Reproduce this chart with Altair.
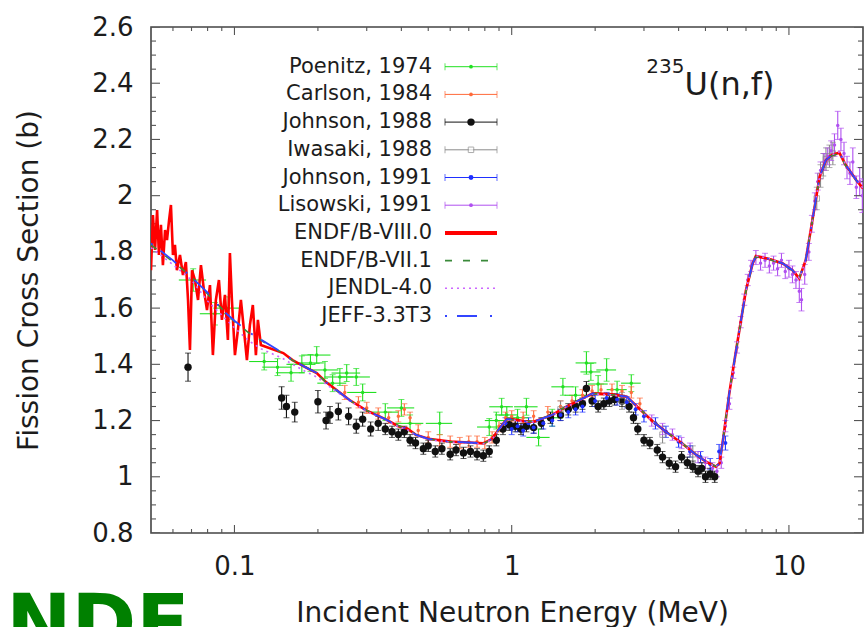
import math
import altair as alt
import pandas as pd

FONT = "DejaVu Sans"
TXT = "#1c1c1c"
TICK = "#555555"

# ---------------- series / styles ----------------
SERIES = ["Poenitz, 1974", "Carlson, 1984", "Johnson, 1988", "Iwasaki, 1988",
          "Johnson, 1991", "Lisowski, 1991", "ENDF/B-VIII.0", "ENDF/B-VII.1",
          "JENDL-4.0", "JEFF-3.3T3"]
SERIES_COLORS = ["#22e022", "#ff6a3a", "#111111", "#8a8a8a", "#1f30ff", "#b050f0",
                 "#ff0000", "#3a8a3a", "#cc66ff", "#3345ff"]
EXPERIMENTS = SERIES[:6]
TICK_KEY = "_axis_tick"

# ---------------- axes ----------------
X_DOMAIN = [0.05, 18.5]
Y_DOMAIN = [0.8, 2.6]
X_LABEL_TICKS = [0.1, 1, 10]
X_MINOR_TICKS = [0.06, 0.07, 0.08, 0.09, 0.2, 0.3, 0.4, 0.5, 0.6, 0.7, 0.8, 0.9,
                 2, 3, 4, 5, 6, 7, 8, 9]
Y_LABEL_TICKS = [0.8, 1.0, 1.2, 1.4, 1.6, 1.8, 2.0, 2.2, 2.4, 2.6]
Y_MINOR_TICKS = [0.85, 0.9, 0.95, 1.05, 1.1, 1.15, 1.25, 1.3, 1.35, 1.45, 1.5, 1.55,
                 1.65, 1.7, 1.75, 1.85, 1.9, 1.95, 2.05, 2.1, 2.15, 2.25, 2.3, 2.35,
                 2.45, 2.5, 2.55]

# ---------------- evaluated curves ----------------
E8_E = [0.0500, 0.0508, 0.0517, 0.0526, 0.0534, 0.0543, 0.0552, 0.0562, 0.0571, 0.0581,
        0.0590, 0.0600, 0.0610, 0.0620, 0.0636, 0.0652, 0.0668, 0.0680, 0.0691, 0.0703,
        0.0720, 0.0739, 0.0757, 0.0776, 0.0796, 0.0816, 0.0836, 0.0857, 0.0879, 0.0901,
        0.0924, 0.0947, 0.0963, 0.0979, 0.1004, 0.1029, 0.1055, 0.1082, 0.1109, 0.1137,
        0.1165, 0.1195, 0.1215, 0.1245,
        0.15, 0.162, 0.18, 0.198, 0.215, 0.234, 0.26, 0.3, 0.35, 0.39, 0.42, 0.45, 0.5,
        0.6, 0.7, 0.79, 0.85, 0.9, 0.96, 1.0, 1.1, 1.2, 1.4, 1.57, 1.8, 1.96, 2.3, 2.6,
        2.9, 3.2, 3.6, 4.1, 4.6, 5.0, 5.45, 5.62, 5.8, 6.1, 6.45, 7.0, 7.4, 7.6, 8.5,
        9.5, 10.3, 10.9, 11.5, 12.5, 12.9, 13.6, 14.3, 15.2, 16.0, 16.5, 17.5, 18.5]
E8_XS = [1.735, 1.931, 1.807, 1.949, 1.789, 1.896, 1.753, 1.878, 1.842, 1.913,
         1.967, 1.789, 1.825, 1.735, 1.789, 1.718, 1.764, 1.629, 1.451, 1.735,
         1.700, 1.629, 1.753, 1.664, 1.593, 1.682, 1.433, 1.629, 1.700, 1.558,
         1.647, 1.487, 1.796, 1.629, 1.433, 1.522, 1.629, 1.522, 1.415, 1.540,
         1.611, 1.433, 1.558, 1.469,
         1.440, 1.415, 1.390, 1.369, 1.335, 1.308, 1.273, 1.235, 1.205, 1.180, 1.172,
         1.150, 1.135, 1.125, 1.122, 1.119, 1.135, 1.170, 1.205, 1.205, 1.198, 1.196,
         1.220, 1.249, 1.278, 1.297, 1.293, 1.285, 1.240, 1.200, 1.160, 1.120, 1.080,
         1.055, 1.036, 1.048, 1.140, 1.300, 1.451, 1.664, 1.759, 1.785, 1.775, 1.759,
         1.735, 1.706, 1.771, 1.985, 2.067, 2.127, 2.145, 2.153, 2.110, 2.091, 2.055,
         2.026]

SMOOTH_E = [0.05, 0.06, 0.07, 0.08, 0.09, 0.10, 0.114, 0.125, 0.15, 0.162, 0.18, 0.198,
            0.215, 0.234, 0.26, 0.3, 0.35, 0.39, 0.42, 0.45, 0.5, 0.6, 0.7, 0.79, 0.85,
            0.9, 0.96, 1.0, 1.1, 1.2, 1.4, 1.57, 1.8, 1.96, 2.3, 2.6, 2.9, 3.2, 3.6, 4.1,
            4.6, 5.0, 5.45, 5.62, 5.8, 6.1, 6.45, 7.0, 7.4, 7.6, 8.5, 9.5, 10.3, 10.9,
            11.5, 12.5, 12.9, 13.6, 14.3, 15.2, 16.0, 16.5, 17.5, 18.5]
JEFF_XS = [1.830, 1.770, 1.710, 1.655, 1.595, 1.555, 1.511, 1.487, 1.440, 1.415, 1.390,
           1.369, 1.335, 1.308, 1.273, 1.235, 1.205, 1.180, 1.172, 1.150, 1.135, 1.125,
           1.122, 1.119, 1.135, 1.170, 1.205, 1.205, 1.198, 1.196, 1.220, 1.249, 1.278,
           1.297, 1.293, 1.285, 1.240, 1.200, 1.160, 1.120, 1.080, 1.055, 1.036, 1.048,
           1.140, 1.300, 1.451, 1.664, 1.759, 1.785, 1.775, 1.759, 1.735, 1.706, 1.771,
           1.985, 2.067, 2.127, 2.145, 2.153, 2.110, 2.091, 2.055, 2.026]
E71_XS = [1.825, 1.765, 1.712, 1.650, 1.598, 1.552, 1.508, 1.485, 1.438, 1.414, 1.392,
          1.367, 1.334, 1.306, 1.272, 1.236, 1.204, 1.182, 1.170, 1.150, 1.134, 1.124,
          1.121, 1.118, 1.134, 1.168, 1.203, 1.204, 1.197, 1.197, 1.221, 1.250, 1.279,
          1.296, 1.292, 1.284, 1.241, 1.201, 1.161, 1.121, 1.081, 1.056, 1.037, 1.050,
          1.142, 1.302, 1.449, 1.660, 1.757, 1.783, 1.773, 1.757, 1.733, 1.708, 1.772,
          1.983, 2.065, 2.125, 2.143, 2.150, 2.108, 2.090, 2.054, 2.025]
JENDL_XS = [1.815, 1.755, 1.700, 1.625, 1.575, 1.530, 1.480, 1.455, 1.420, 1.400, 1.375,
            1.355, 1.328, 1.302, 1.270, 1.233, 1.203, 1.178, 1.168, 1.148, 1.132, 1.123,
            1.120, 1.117, 1.133, 1.167, 1.202, 1.203, 1.196, 1.195, 1.219, 1.248, 1.277,
            1.295, 1.291, 1.283, 1.239, 1.199, 1.159, 1.119, 1.079, 1.054, 1.035, 1.047,
            1.138, 1.298, 1.450, 1.662, 1.760, 1.786, 1.776, 1.760, 1.736, 1.707, 1.770,
            1.984, 2.066, 2.128, 2.146, 2.155, 2.112, 2.092, 2.056, 2.027]

# ---------------- experimental data ----------------
P74_E = [0.071, 0.085, 0.095, 0.128, 0.143, 0.160, 0.175, 0.188, 0.198, 0.212, 0.226,
         0.240, 0.254, 0.275, 0.290, 0.35, 0.40, 0.43, 0.55, 0.83, 0.88, 0.92, 0.96,
         1.05, 1.13, 1.25, 1.40, 1.53, 1.70, 1.86, 1.93, 2.05, 2.20, 2.40, 2.70]
P74_XS = [1.70, 1.58, 1.60, 1.41, 1.39, 1.37, 1.40, 1.405, 1.433, 1.38, 1.333, 1.355,
          1.369, 1.355, 1.30, 1.23, 1.245, 1.19, 1.19, 1.177, 1.20, 1.249, 1.22, 1.21,
          1.249, 1.14, 1.21, 1.32, 1.29, 1.405, 1.373, 1.33, 1.38, 1.31, 1.333]
P74_ERR = [0.04, 0.04, 0.04, 0.03, 0.03, 0.03, 0.03, 0.03, 0.03, 0.03, 0.03, 0.03,
           0.03, 0.03, 0.03, 0.03, 0.03, 0.03, 0.04, 0.03, 0.03, 0.03, 0.03, 0.03,
           0.03, 0.03, 0.03, 0.03, 0.03, 0.04, 0.03, 0.03, 0.04, 0.03, 0.03]
P74_DE = [0.008, 0.010, 0.011, 0.015, 0.017, 0.019, 0.021, 0.022, 0.024, 0.025, 0.027,
          0.029, 0.030, 0.033, 0.035, 0.040, 0.045, 0.050, 0.060, 0.08, 0.08, 0.09,
          0.09, 0.10, 0.11, 0.12, 0.13, 0.14, 0.15, 0.16, 0.16, 0.17, 0.18, 0.20, 0.22]

C84_E = [0.25, 0.28, 0.30, 0.33, 0.36, 0.39, 0.41, 0.43, 0.46, 0.50, 0.55, 0.60, 0.65,
         0.70, 0.75, 0.80, 0.85, 0.90, 0.95, 1.00, 1.10, 1.20, 1.35, 1.50, 1.65, 1.80,
         1.95, 2.10, 2.30, 2.50, 2.70, 2.90]
C84_XS = [1.30, 1.265, 1.245, 1.225, 1.21, 1.215, 1.24, 1.21, 1.165, 1.14, 1.13, 1.125,
          1.12, 1.125, 1.125, 1.12, 1.14, 1.18, 1.21, 1.215, 1.21, 1.215, 1.23, 1.25,
          1.27, 1.29, 1.305, 1.31, 1.31, 1.305, 1.30, 1.26]
C84_ERR = [0.025, 0.02, 0.02, 0.02, 0.02, 0.02, 0.02, 0.02, 0.02, 0.02, 0.02, 0.02,
           0.02, 0.02, 0.02, 0.02, 0.02, 0.02, 0.02, 0.02, 0.02, 0.02, 0.02, 0.02,
           0.02, 0.02, 0.02, 0.02, 0.02, 0.02, 0.02, 0.02]

J88_E = [0.068, 0.148, 0.154, 0.165, 0.200, 0.214, 0.221, 0.237, 0.258, 0.275, 0.29,
         0.31, 0.33, 0.35, 0.37, 0.39, 0.41, 0.43, 0.45, 0.48, 0.50, 0.53, 0.56, 0.60,
         0.63, 0.67, 0.71, 0.75, 0.79, 0.83, 0.88, 0.93, 0.98, 1.03, 1.08, 1.13, 1.20,
         1.28, 1.38, 1.50, 1.60, 1.70, 1.80, 1.86, 1.95, 2.05, 2.15, 2.25, 2.35, 2.50,
         2.65, 2.75, 2.85, 3.0, 3.15, 3.35, 3.5, 3.7, 3.9, 4.1, 4.3, 4.5, 4.7, 4.85,
         5.0, 5.2, 5.4]
J88_XS = [1.39, 1.28, 1.25, 1.23, 1.267, 1.20, 1.22, 1.232, 1.215, 1.18, 1.205, 1.17,
          1.19, 1.17, 1.16, 1.15, 1.16, 1.13, 1.12, 1.10, 1.11, 1.09, 1.10, 1.08, 1.095,
          1.085, 1.09, 1.08, 1.075, 1.09, 1.13, 1.17, 1.185, 1.18, 1.17, 1.18, 1.175,
          1.19, 1.21, 1.22, 1.24, 1.25, 1.26, 1.314, 1.27, 1.25, 1.26, 1.27, 1.275,
          1.27, 1.25, 1.21, 1.17, 1.13, 1.12, 1.095, 1.07, 1.048, 1.036, 1.07, 1.05,
          1.036, 1.02, 1.03, 1.0, 1.01, 1.0]
J88_ERR = [0.05, 0.04, 0.04, 0.035, 0.04, 0.03, 0.03, 0.03, 0.03, 0.025, 0.025, 0.025,
           0.025, 0.02, 0.02, 0.02, 0.02, 0.02, 0.02, 0.02, 0.02, 0.02, 0.02, 0.02,
           0.02, 0.02, 0.02, 0.02, 0.02, 0.02, 0.02, 0.02, 0.02, 0.02, 0.02, 0.02,
           0.02, 0.02, 0.02, 0.02, 0.02, 0.02, 0.02, 0.025, 0.02, 0.02, 0.02, 0.02,
           0.02, 0.02, 0.02, 0.02, 0.02, 0.02, 0.02, 0.02, 0.02, 0.02, 0.02, 0.02,
           0.02, 0.02, 0.02, 0.02, 0.02, 0.02, 0.02]

I88_E = [1.5, 2.5, 3.5, 4.5, 12.6, 13.0, 13.3, 13.6, 14.0, 14.4]
I88_XS = [1.24, 1.27, 1.15, 1.08, 1.99, 2.07, 2.11, 2.13, 2.14, 2.15]
I88_ERR = [0.03, 0.03, 0.03, 0.03, 0.04, 0.04, 0.04, 0.04, 0.04, 0.04]

J91_E = [0.95, 1.0, 1.05, 1.1, 1.15, 1.2, 1.3, 1.4, 1.5, 1.6, 1.7, 1.8, 2.0, 2.2, 2.4,
         2.6, 2.8, 3.0, 3.3, 3.6, 4.0, 4.4, 4.8, 5.2, 5.6, 5.9]
J91_XS = [1.19, 1.17, 1.18, 1.165, 1.19, 1.175, 1.19, 1.20, 1.22, 1.23, 1.24, 1.25,
          1.27, 1.28, 1.275, 1.265, 1.24, 1.215, 1.19, 1.16, 1.125, 1.09, 1.07, 1.045,
          1.09, 1.12]
J91_ERR = [0.02, 0.02, 0.02, 0.02, 0.02, 0.02, 0.02, 0.02, 0.02, 0.02, 0.02, 0.02,
           0.02, 0.02, 0.02, 0.02, 0.02, 0.02, 0.02, 0.02, 0.02, 0.02, 0.02, 0.02,
           0.025, 0.025]

L91_E = [3.2, 3.5, 3.8, 4.1, 4.4, 4.7, 5.0, 5.3, 5.5, 5.7, 5.9, 6.1, 6.3, 6.5, 6.7,
         6.9, 7.1, 7.3, 7.6, 7.9, 8.2, 8.5, 8.8, 9.1, 9.4, 9.7, 10.0, 10.3, 10.6, 10.9,
         11.1, 11.4, 11.8, 12.1, 12.4, 12.7, 13.0, 13.4, 13.8, 14.2, 14.6, 15.0, 15.4,
         15.8, 16.2, 16.6, 17.0, 17.5, 18.0, 18.4]
L91_XS = [1.20, 1.17, 1.15, 1.12, 1.10, 1.07, 1.05, 1.03, 1.02, 1.05, 1.18, 1.26, 1.37,
          1.46, 1.55, 1.63, 1.70, 1.75, 1.78, 1.76, 1.77, 1.75, 1.76, 1.74, 1.77, 1.73,
          1.74, 1.72, 1.70, 1.66, 1.63, 1.72, 1.80, 1.90, 1.98, 2.05, 2.09, 2.12, 2.14,
          2.16, 2.18, 2.25, 2.20, 2.15, 2.10, 2.08, 2.12, 2.03, 2.05, 2.00]
L91_ERR = [0.02, 0.02, 0.02, 0.02, 0.02, 0.02, 0.02, 0.02, 0.02, 0.02, 0.02, 0.02,
           0.02, 0.02, 0.02, 0.02, 0.02, 0.02, 0.025, 0.025, 0.025, 0.025, 0.025, 0.025,
           0.025, 0.025, 0.03, 0.03, 0.03, 0.04, 0.04, 0.035, 0.03, 0.03, 0.03, 0.03,
           0.03, 0.03, 0.03, 0.035, 0.04, 0.05, 0.04, 0.04, 0.04, 0.04, 0.05, 0.04,
           0.05, 0.06]

ANNOT_TEXT = ["U(n,f)", "235"]
ANNOT_E = [4.2, 4.2]
ANNOT_XS = [2.358, 2.437]
LOGO_TEXT = ["ENDF"]

# ---------------- tables ----------------
exp_sets = [("Poenitz, 1974", P74_E, P74_XS, P74_ERR),
            ("Carlson, 1984", C84_E, C84_XS, C84_ERR),
            ("Johnson, 1988", J88_E, J88_XS, J88_ERR),
            ("Iwasaki, 1988", I88_E, I88_XS, I88_ERR),
            ("Johnson, 1991", J91_E, J91_XS, J91_ERR),
            ("Lisowski, 1991", L91_E, L91_XS, L91_ERR)]
rows = []
for name, es, xs, er in exp_sets:
    for e, s, d in zip(es, xs, er):
        rows.append({"series": name, "E": e, "xs": s, "lo": s - d, "hi": s + d})
exp_df = pd.DataFrame(rows)

# plot geometry, used only to express tick lengths in data units
W, H = 712, 506
PX_PER_DECADE = W / math.log10(X_DOMAIN[1] / X_DOMAIN[0])
PX_PER_UNIT = H / (Y_DOMAIN[1] - Y_DOMAIN[0])

def ytick_len(px):
    return px / PX_PER_UNIT

def xtick_fac(px):
    return 10 ** (px / PX_PER_DECADE)

# vertical segments: experimental error bars + inward x-axis ticks (bottom and top)
vrows = list(rows)
for vals, px in [(X_LABEL_TICKS, 8), (X_MINOR_TICKS, 4)]:
    for v in vals:
        vrows.append({"series": TICK_KEY, "E": v, "xs": Y_DOMAIN[0],
                      "lo": Y_DOMAIN[0], "hi": Y_DOMAIN[0] + ytick_len(px)})
        vrows.append({"series": TICK_KEY, "E": v, "xs": Y_DOMAIN[1],
                      "lo": Y_DOMAIN[1] - ytick_len(px), "hi": Y_DOMAIN[1]})
vbar_df = pd.DataFrame(vrows)

# horizontal segments: Poenitz energy bars + inward y-axis ticks (left and right)
hrows = [{"series": "Poenitz, 1974", "E": e, "xs": s, "Elo": e - d, "Ehi": e + d}
         for e, s, d in zip(P74_E, P74_XS, P74_DE)]
for vals, px in [(Y_LABEL_TICKS, 9), (Y_MINOR_TICKS, 5)]:
    for v in vals:
        hrows.append({"series": TICK_KEY, "E": X_DOMAIN[0], "xs": v,
                      "Elo": X_DOMAIN[0], "Ehi": X_DOMAIN[0] * xtick_fac(px)})
        hrows.append({"series": TICK_KEY, "E": X_DOMAIN[1], "xs": v,
                      "Elo": X_DOMAIN[1] / xtick_fac(px), "Ehi": X_DOMAIN[1]})
hbar_df = pd.DataFrame(hrows)

def sub(name):
    return exp_df[exp_df["series"] == name]

e8_df = pd.DataFrame({"E": E8_E, "xs": E8_XS})
e71_df = pd.DataFrame({"E": SMOOTH_E, "xs": E71_XS})
jendl_df = pd.DataFrame({"E": SMOOTH_E, "xs": JENDL_XS})
jeff_df = pd.DataFrame({"E": SMOOTH_E, "xs": JEFF_XS})
leg_df = pd.DataFrame({"series": SERIES})

# ---------------- encodings ----------------
XS = alt.Scale(type="log", domain=X_DOMAIN, nice=False)
YS = alt.Scale(domain=Y_DOMAIN, nice=False, zero=False)

def X(field="E", axis=None):
    return alt.X(f"{field}:Q", scale=XS, axis=axis)

def Y(field="xs", axis=None):
    return alt.Y(f"{field}:Q", scale=YS, axis=axis)

COLOR = alt.Color("series:N", scale=alt.Scale(domain=SERIES + [TICK_KEY],
                                              range=SERIES_COLORS + [TICK]), legend=None)

x_label_axis = alt.Axis(orient="bottom", values=X_LABEL_TICKS, format="~g", ticks=False,
                        domain=False, grid=False, labelPadding=20, labelFont=FONT,
                        labelFontSize=26, labelColor=TXT, labelFlush=False,
                        labelOverlap=False,
                        title="Incident Neutron Energy (MeV)", titleFont=FONT,
                        titleFontSize=28, titleFontWeight="normal", titleColor=TXT,
                        titleX=361, titleY=88, titleAlign="center",
                        titleBaseline="alphabetic")
y_label_axis = alt.Axis(orient="left", values=Y_LABEL_TICKS, format="~g", ticks=False,
                        domain=False, grid=False, labelPadding=18, labelFont=FONT,
                        labelFontSize=26, labelColor=TXT, labelFlush=False,
                        labelOverlap=False,
                        title="Fission Cross Section (b)", titleFont=FONT,
                        titleFontSize=28, titleFontWeight="normal", titleColor=TXT,
                        titleX=-114, titleY=253, titleAngle=270, titleAlign="center",
                        titleBaseline="alphabetic")

layers = []

# ---- layer carrying the labelled axes ----
layers.append(alt.Chart(e8_df).mark_line(color=SERIES_COLORS[6], strokeWidth=2.6,
                                         opacity=0, clip=True)
              .encode(x=X(axis=x_label_axis), y=Y(axis=y_label_axis)))

# ---- error bars and inward axis ticks ----
layers.append(alt.Chart(vbar_df).mark_rule(strokeWidth=1.1, clip=True).encode(
    x=X(), y=Y("lo"), y2="hi:Q", color=COLOR))
for fld in ["lo", "hi"]:
    layers.append(alt.Chart(exp_df).mark_tick(orient="horizontal", size=6, thickness=1,
                                              clip=True).encode(
        x=X(), y=Y(fld), color=COLOR))
layers.append(alt.Chart(hbar_df).mark_rule(strokeWidth=1.1, clip=True).encode(
    x=X("Elo"), x2="Ehi:Q", y=Y(), color=COLOR))

# ---- points ----
layers.append(alt.Chart(sub("Poenitz, 1974")).mark_circle(size=12, opacity=1, clip=True)
              .encode(x=X(), y=Y(), color=COLOR))
layers.append(alt.Chart(sub("Carlson, 1984")).mark_circle(size=12, opacity=1, clip=True)
              .encode(x=X(), y=Y(), color=COLOR))
layers.append(alt.Chart(sub("Johnson, 1988")).mark_circle(size=55, opacity=1, clip=True)
              .encode(x=X(), y=Y(), color=COLOR))
layers.append(alt.Chart(sub("Iwasaki, 1988")).mark_square(size=30, filled=False,
                                                          strokeWidth=1, clip=True)
              .encode(x=X(), y=Y(), color=COLOR))
layers.append(alt.Chart(sub("Johnson, 1991")).mark_circle(size=16, opacity=1, clip=True)
              .encode(x=X(), y=Y(), color=COLOR))
layers.append(alt.Chart(sub("Lisowski, 1991")).mark_circle(size=12, opacity=1, clip=True)
              .encode(x=X(), y=Y(), color=COLOR))

# ---- evaluations ----
layers.append(alt.Chart(e8_df).mark_line(color=SERIES_COLORS[6], strokeWidth=2.6, clip=True)
              .encode(x=X(), y=Y()))
layers.append(alt.Chart(e71_df).mark_line(color=SERIES_COLORS[7], strokeWidth=1.6,
                                          strokeDash=[7, 11], clip=True)
              .encode(x=X(), y=Y()))
layers.append(alt.Chart(jendl_df).mark_line(color=SERIES_COLORS[8], strokeWidth=1.6,
                                            strokeDash=[2, 4], clip=True)
              .encode(x=X(), y=Y()))
layers.append(alt.Chart(jeff_df).mark_line(color=SERIES_COLORS[9], strokeWidth=1.8,
                                           strokeDash=[2, 10, 20, 13], clip=True)
              .encode(x=X(), y=Y()))

# ---- annotation 235U(n,f) ----
ann_df = pd.DataFrame({"t": ANNOT_TEXT, "E": ANNOT_E, "xs": ANNOT_XS})
layers.append(alt.Chart(ann_df.iloc[[0]]).mark_text(font=FONT, fontSize=32, color=TXT,
                                                     align="left", baseline="alphabetic")
              .encode(x=X(), y=Y(), text="t:N"))
layers.append(alt.Chart(ann_df.iloc[[1]]).mark_text(font=FONT, fontSize=20, color=TXT,
                                                     align="right", baseline="alphabetic")
              .encode(x=X(), y=Y(), text="t:N"))

# ---- legend (rows placed by a point scale over the series names) ----
LEG_Y = alt.Y("series:N", scale=alt.Scale(type="point", domain=SERIES, range=[39.7, 289.0],
                                           padding=0), axis=None)
SYM_L, SYM_R, SYM_C, LAB_R = 294, 346, 320, 281

def leg(names):
    return alt.Chart(leg_df).transform_filter(alt.FieldOneOfPredicate(field="series", oneOf=names))

layers.append(alt.Chart(leg_df).mark_text(font=FONT, fontSize=21, color=TXT, align="right",
                                          baseline="middle")
              .encode(y=LEG_Y, x=alt.value(LAB_R), text="series:N"))
layers.append(leg(EXPERIMENTS).mark_rule(strokeWidth=1)
              .encode(y=LEG_Y, x=alt.value(SYM_L), x2=alt.value(SYM_R), color=COLOR))
for xc in [SYM_L, SYM_R]:
    layers.append(leg(EXPERIMENTS).mark_tick(orient="vertical", size=7, thickness=1)
                  .encode(y=LEG_Y, x=alt.value(xc), color=COLOR))
layers.append(leg(["ENDF/B-VIII.0"]).mark_rule(strokeWidth=4)
              .encode(y=LEG_Y, x=alt.value(SYM_L), x2=alt.value(SYM_R), color=COLOR))
layers.append(leg(["ENDF/B-VII.1"]).mark_rule(strokeWidth=1.6, strokeDash=[7, 11])
              .encode(y=LEG_Y, x=alt.value(SYM_L), x2=alt.value(SYM_R), color=COLOR))
layers.append(leg(["JENDL-4.0"]).mark_rule(strokeWidth=1.6, strokeDash=[2, 4])
              .encode(y=LEG_Y, x=alt.value(SYM_L), x2=alt.value(SYM_R), color=COLOR))
layers.append(leg(["JEFF-3.3T3"]).mark_rule(strokeWidth=1.8, strokeDash=[2, 10, 20, 13])
              .encode(y=LEG_Y, x=alt.value(SYM_L), x2=alt.value(SYM_R), color=COLOR))
layers.append(leg(["Poenitz, 1974", "Carlson, 1984", "Lisowski, 1991"])
              .mark_circle(size=14, opacity=1)
              .encode(y=LEG_Y, x=alt.value(SYM_C), color=COLOR))
layers.append(leg(["Johnson, 1991"]).mark_circle(size=24, opacity=1)
              .encode(y=LEG_Y, x=alt.value(SYM_C), color=COLOR))
layers.append(leg(["Johnson, 1988"]).mark_circle(size=55, opacity=1)
              .encode(y=LEG_Y, x=alt.value(SYM_C), color=COLOR))
layers.append(leg(["Iwasaki, 1988"]).mark_square(size=30, filled=False, fill="white",
                                                  strokeWidth=1)
              .encode(y=LEG_Y, x=alt.value(SYM_C), color=COLOR))

# ---- logo text (cropped at the bottom edge like the reference) ----
layers.append(alt.Chart(pd.DataFrame({"t": LOGO_TEXT})).mark_text(
    font=FONT, fontWeight="bold", fontSize=78, color="#008000", align="left",
    baseline="alphabetic").encode(text="t:N", x=alt.value(-198), y=alt.value(623)))

chart = alt.layer(*layers).resolve_scale(y="independent").resolve_axis(
    x="independent", y="independent").properties(
    width=W, height=H,
    autosize=alt.AutoSizeParams(type="none"),
    padding={"left": 151, "top": 27, "right": 2, "bottom": 94},
    background="white",
).configure_view(stroke="#444444", strokeWidth=1.6)

chart.save("out.html", embed_options={"renderer": "svg", "actions": False})
